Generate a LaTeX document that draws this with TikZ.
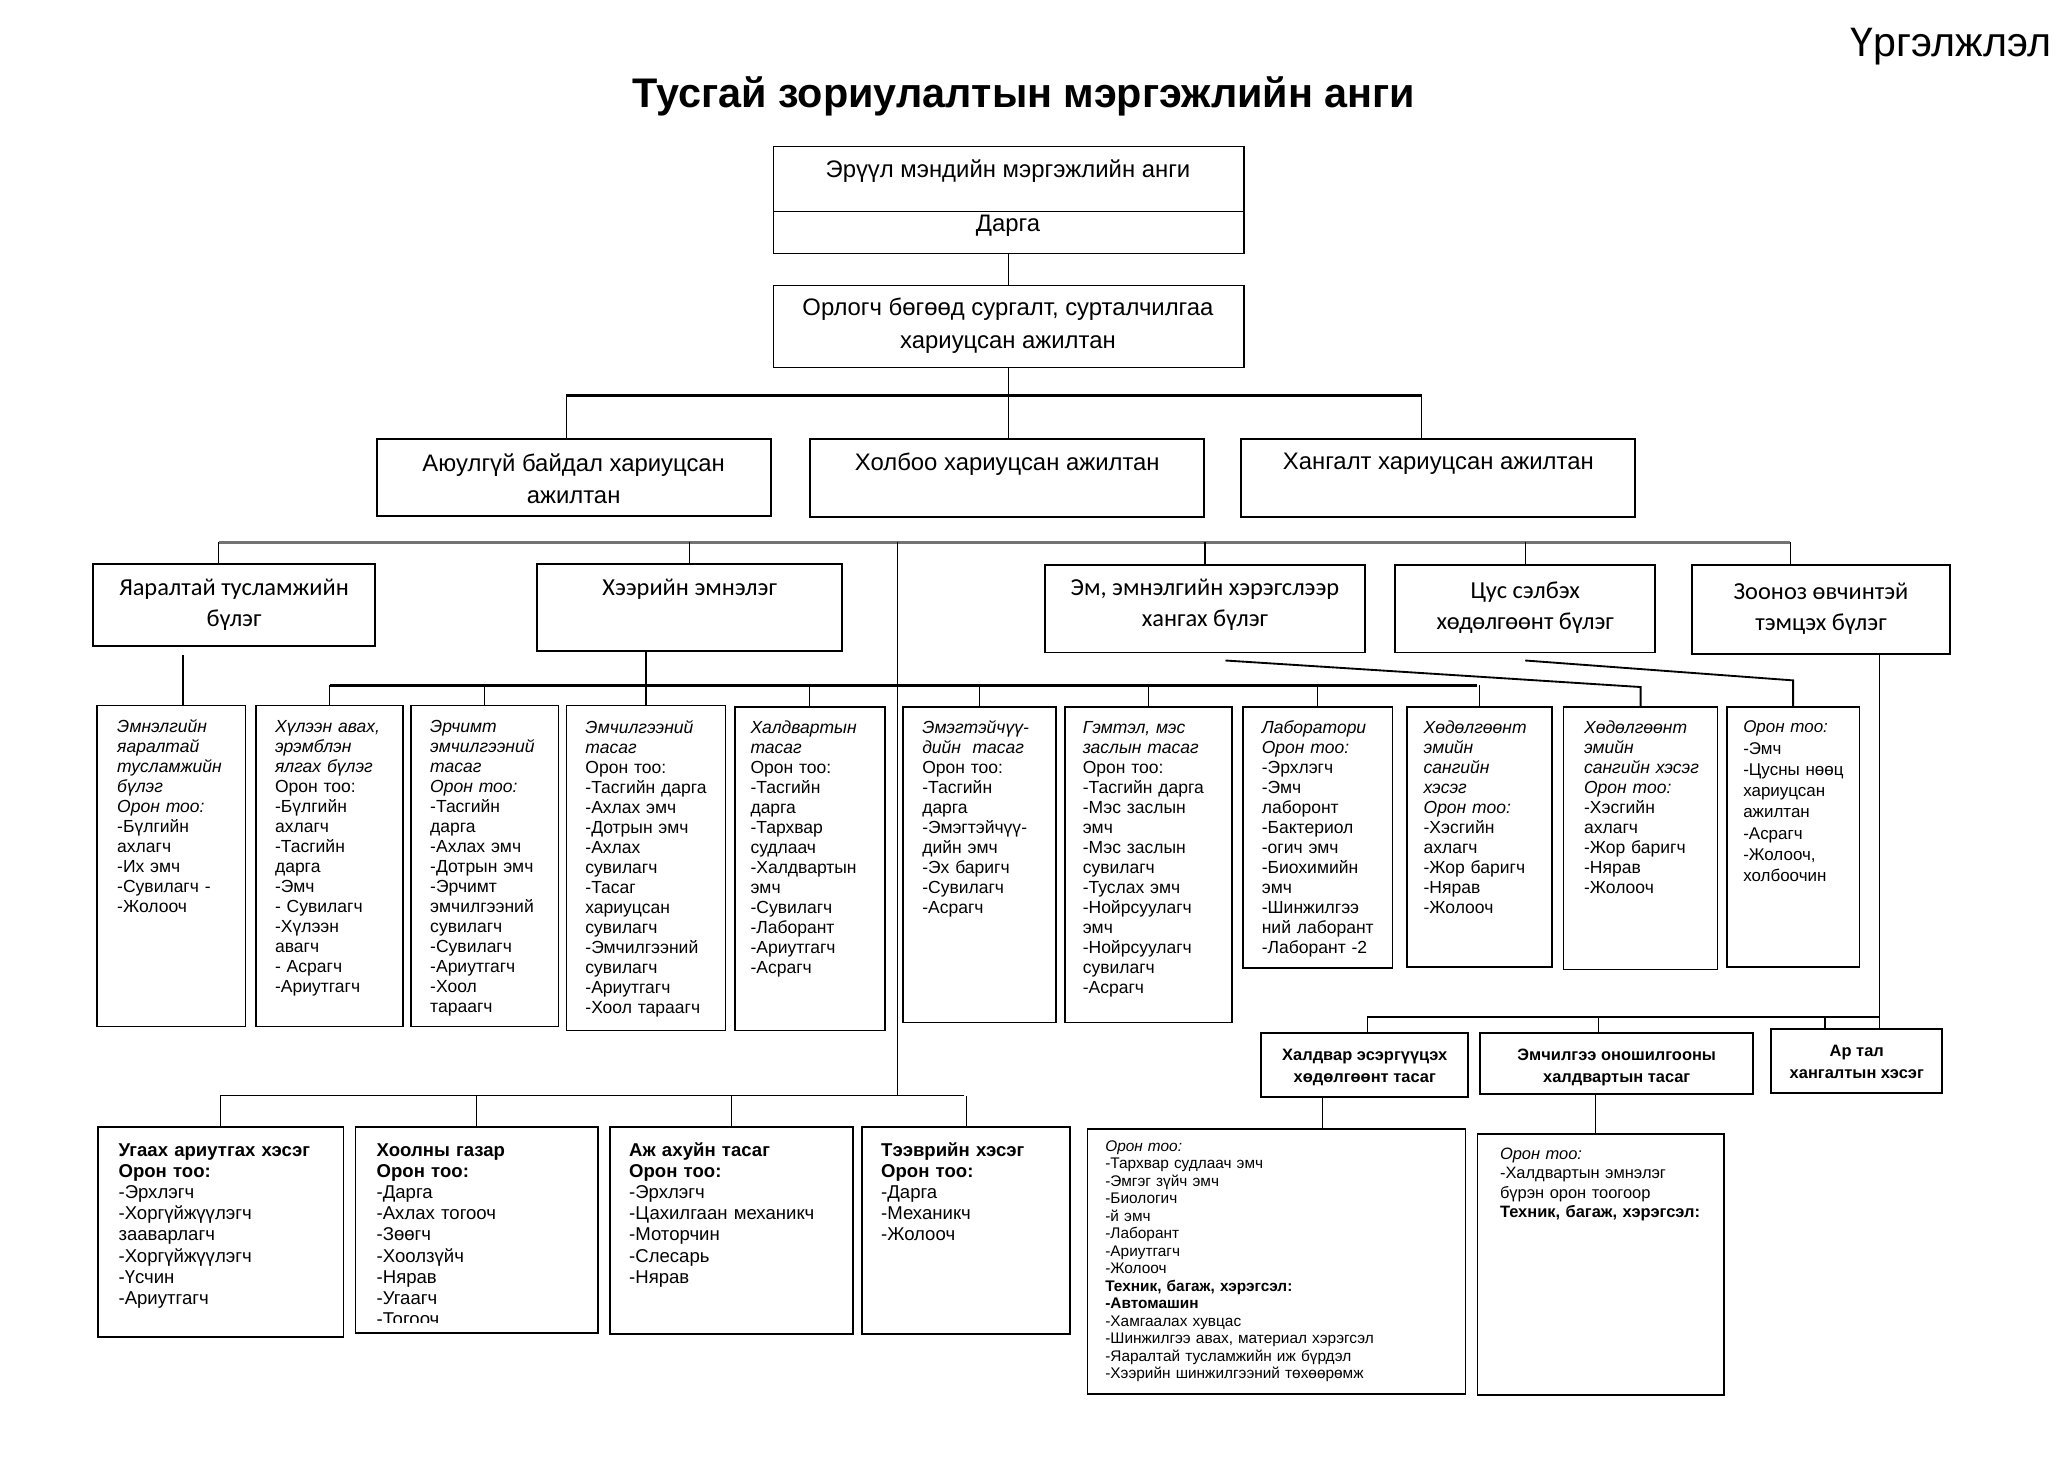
\documentclass[tikz,border=0pt]{standalone}
\usepackage{fontspec}
\setmainfont{Liberation Sans}
\newfontfamily\calfont{Carlito}

\newlength\ux
\setlength\ux{0.5pt}
% box spanning the corners (x1,y1) and (x2,y2)
\newcommand\chartbox[6][]{%
  \node[unit,#1,minimum width={(#5-#3)*\ux},minimum height={(#6-#4)*\ux}] (#2) at (#3,#4) {};}

\tikzset{
  unit/.style={draw, line width=0.7pt, anchor=north west, inner sep=0pt, outer sep=0pt},
  topbox/.style={line width=0.5pt},
  cellbox/.style={line width=0.6pt},
  link/.style={line width=0.45pt},
  bus/.style={line width=1.1pt},
  ctext/.style={inner sep=0pt, align=center, font=\fontsize{9pt}{12.5pt}\selectfont},
  gtext/.style={inner sep=0pt, align=center, font=\calfont\fontsize{9.2pt}{11.75pt}\selectfont},
  htext/.style={inner sep=0pt, align=center, font=\fontsize{6.2pt}{8.3pt}\selectfont\bfseries},
  lines/.style={anchor=north west, inner sep=0pt, align=left, text width=150\ux, execute at begin node=\strut},
  stext/.style={lines, font=\fontsize{6.6pt}{7.55pt}\selectfont},
  btext/.style={lines, font=\fontsize{7pt}{8pt}\selectfont},
  ltext/.style={lines, text width=270\ux, font=\fontsize{5.8pt}{6.6pt}\selectfont},
}

\begin{document}
\begin{tikzpicture}[x=0.5pt, y=-0.5pt]
  \fill[white] (0,0) rectangle (1560,1100);
  \useasboundingbox (0,0) rectangle (1560,1100);

  % heading
  \node[font=\fontsize{15.5pt}{18pt}\selectfont] (cont) at (1471,35) {Үргэлжлэл};
  \node[font=\fontsize{15.6pt}{18pt}\selectfont\bfseries] (title) at (772,73) {Тусгай зориулалтын мэргэжлийн анги};

  % top levels
  \chartbox[topbox]{ero}{583}{110.5}{938}{159.7}
  \chartbox[topbox]{dar}{583}{159.7}{938}{191}
  \chartbox[topbox]{orl}{583}{215}{938}{277}
  \node[ctext] (ero-t) at (760,128.8) {Эрүүл мэндийн мэргэжлийн анги};
  \node[ctext] (dar-t) at (760,170) {Дарга};
  \node[ctext] (orl-t) at (760,245.5) {Орлогч бөгөөд сургалт, сурталчилгаа\\хариуцсан ажилтан};

  \chartbox{aj}{284}{331}{581}{389}
  \chartbox{hol}{611}{331}{908}{389.5}
  \chartbox{hg}{936}{331}{1233}{390}
  \node[ctext, font=\fontsize{9pt}{12pt}\selectfont] (aj-t) at (432.5,361) {Аюулгүй байдал хариуцсан\\ажилтан};
  \node[ctext] (hol-t) at (759.5,350) {Холбоо хариуцсан ажилтан};
  \node[ctext] (hg-t) at (1084.5,350) {Хангалт хариуцсан ажилтан};

  % groups
  \chartbox{ya}{70}{425}{283}{487}
  \chartbox{he}{405}{425}{635}{491}
  \chartbox{em}{788}{426}{1029}{492}
  \chartbox{cu}{1052}{426}{1248}{492}
  \chartbox{zo}{1276}{426}{1470}{493}
  \node[gtext] (ya-t) at (176.5,455.7) {Яаралтай тусламжийн\\бүлэг};
  \node[gtext] (he-t) at (520,444) {Хээрийн эмнэлэг};
  \node[gtext] (em-t) at (908.5,456) {Эм, эмнэлгийн хэрэгслээр\\хангах бүлэг};
  \node[gtext] (cu-t) at (1150,458) {Цус сэлбэх\\хөдөлгөөнт бүлэг};
  \node[gtext] (zo-t) at (1373,459) {Зооноз өвчинтэй\\тэмцэх бүлэг};

  % units
  \chartbox[cellbox]{emn}{73}{532}{185}{774}
  \chartbox[cellbox]{hul}{193}{532}{304}{774}
  \chartbox[cellbox]{erch}{310}{532}{421}{774}
  \chartbox[cellbox]{emch}{427}{532}{547}{777}
  \chartbox{hald}{554}{533}{667}{777}
  \chartbox[cellbox]{emeg}{681}{533}{796}{771}
  \chartbox[cellbox]{gem}{803}{533}{929}{771}
  \chartbox[cellbox]{lab}{937}{533}{1050}{730}
  \chartbox[cellbox]{hod1}{1061}{533}{1170}{729}
  \chartbox[cellbox]{hod2}{1179}{533}{1295}{731}
  \chartbox[cellbox]{oron}{1302}{533}{1402}{729}

  \node[stext] (emn-t) at (88,541) {{\itshape Эмнэлгийн\\ яаралтай\\ тусламжийн\\ бүлэг\\ Орон тоо:}\\ -Бүлгийн\\ ахлагч\\ -Их эмч\\ -Сувилагч -\\ -Жолооч};
  \node[stext] (hul-t) at (207,541) {{\itshape Хүлээн авах,\\ эрэмблэн\\ ялгах бүлэг}\\ Орон тоо:\\ -Бүлгийн\\ ахлагч\\ -Тасгийн\\ дарга\\ -Эмч\\ - Сувилагч\\ -Хүлээн\\ авагч\\ - Асрагч\\ -Ариутгагч};
  \node[stext] (erch-t) at (324,541) {{\itshape Эрчимт\\ эмчилгээний\\ тасаг\\ Орон тоо:}\\ -Тасгийн\\ дарга\\ -Ахлах эмч\\ -Дотрын эмч\\ -Эрчимт\\ эмчилгээний\\ сувилагч\\ -Сувилагч\\ -Ариутгагч\\ -Хоол\\ тараагч};
  \node[stext] (emch-t) at (441,542) {{\itshape Эмчилгээний\\ тасаг}\\ Орон тоо:\\ -Тасгийн дарга\\ -Ахлах эмч\\ -Дотрын эмч\\ -Ахлах\\ сувилагч\\ -Тасаг\\ хариуцсан\\ сувилагч\\ -Эмчилгээний\\ сувилагч\\ -Ариутгагч\\ -Хоол тараагч};
  \node[stext] (hald-t) at (565.5,542) {{\itshape Халдвартын\\ тасаг}\\ Орон тоо:\\ -Тасгийн\\ дарга\\ -Тархвар\\ судлаач\\ -Халдвартын\\ эмч\\ -Сувилагч\\ -Лаборант\\ -Ариутгагч\\ -Асрагч};
  \node[stext] (emeg-t) at (695,542) {{\itshape Эмэгтэйчүү-\\ дийн~~тасаг}\\ Орон тоо:\\ -Тасгийн\\ дарга\\ -Эмэгтэйчүү-\\ дийн эмч\\ -Эх баригч\\ -Сувилагч\\ -Асрагч};
  \node[stext] (gem-t) at (816,542) {{\itshape Гэмтэл, мэс\\ заслын тасаг}\\ Орон тоо:\\ -Тасгийн дарга\\ -Мэс заслын\\ эмч\\ -Мэс заслын\\ сувилагч\\ -Туслах эмч\\ -Нойрсуулагч\\ эмч\\ -Нойрсуулагч\\ сувилагч\\ -Асрагч};
  \node[stext] (lab-t) at (951,542) {{\itshape Лаборатори\\ Орон тоо:}\\ -Эрхлэгч\\ -Эмч\\ лаборонт\\ -Бактериол\\ -огич эмч\\ -Биохимийн\\ эмч\\ -Шинжилгээ\\ ний лаборант\\ -Лаборант -2};
  \node[stext] (hod1-t) at (1073,542) {{\itshape Хөдөлгөөнт\\ эмийн\\ сангийн\\ хэсэг\\ Орон тоо:}\\ -Хэсгийн\\ ахлагч\\ -Жор баригч\\ -Нярав\\ -Жолооч};
  \node[stext] (hod2-t) at (1194,542) {{\itshape Хөдөлгөөнт\\ эмийн\\ сангийн хэсэг\\ Орон тоо:}\\ -Хэсгийн\\ ахлагч\\ -Жор баригч\\ -Нярав\\ -Жолооч};
  \node[stext, font=\fontsize{6.4pt}{8pt}\selectfont] (oron-t) at (1314,541) {{\itshape Орон тоо:}\\ -Эмч\\ -Цусны нөөц\\ хариуцсан\\ ажилтан\\ -Асрагч\\ -Жолооч,\\ холбоочин};

  % bottom right
  \chartbox{hesreg}{951}{779}{1107}{827}
  \chartbox{onosh}{1116}{779}{1322}{825}
  \chartbox{artal}{1335}{776}{1464}{824}
  \node[htext] (hesreg-t) at (1029,804.5) {Халдвар эсэргүүцэх\\хөдөлгөөнт тасаг};
  \node[htext] (onosh-t) at (1219,804.5) {Эмчилгээ оношилгооны\\халдвартын тасаг};
  \node[htext] (artal-t) at (1400,801) {Ар тал\\хангалтын хэсэг};

  \chartbox{hesreg-b}{820}{851}{1105}{1051}
  \chartbox[cellbox]{onosh-b}{1114}{855}{1300}{1052}
  \node[ltext] (hesreg-bt) at (833,858.4) {{\itshape Орон тоо:}\\ -Тархвар судлаач эмч\\ -Эмгэг зүйч эмч\\ -Биологич\\ -й эмч\\ -Лаборант\\ -Ариутгагч\\ -Жолооч\\ \textbf{Техник, багаж, хэрэгсэл:}\\ \textbf{-Автомашин}\\ -Хамгаалах хувцас\\ -Шинжилгээ авах, материал хэрэгсэл\\ -Яаралтай тусламжийн иж бүрдэл\\ -Хээрийн шинжилгээний төхөөрөмж};
  \node[ltext, font=\fontsize{6.2pt}{7.25pt}\selectfont] (onosh-bt) at (1130.6,863.8) {{\itshape Орон тоо:}\\ -Халдвартын эмнэлэг\\ бүрэн орон тоогоор\\ \textbf{Техник, багаж, хэрэгсэл:}};

  % bottom left
  \chartbox{ugaah}{74}{849.5}{259}{1008}
  \chartbox{hool}{268}{850}{451}{1005}
  \chartbox{ajahui}{460}{849.5}{643}{1006}
  \chartbox{teever}{650}{849.5}{807}{1006}
  \coordinate (hc) at (0,997);
  \node[btext] (ugaah-t) at (89,860) {\textbf{Угаах ариутгах хэсэг}\\ \textbf{Орон тоо:}\\ -Эрхлэгч\\ -Хоргүйжүүлэгч\\ зааварлагч\\ -Хоргүйжүүлэгч\\ -Үсчин\\ -Ариутгагч};
  \begin{scope}
    \clip (hool.north west) rectangle (hool.east |- hc);
    \node[btext] (hool-t) at (283.6,860) {\textbf{Хоолны газар}\\ \textbf{Орон тоо:}\\ -Дарга\\ -Ахлах тогооч\\ -Зөөгч\\ -Хоолзүйч\\ -Нярав\\ -Угаагч\\ -Тогооч};
  \end{scope}
  \node[btext] (ajahui-t) at (474,860) {\textbf{Аж ахуйн тасаг}\\ \textbf{Орон тоо:}\\ -Эрхлэгч\\ -Цахилгаан механикч\\ -Моторчин\\ -Слесарь\\ -Нярав};
  \node[btext] (teever-t) at (664,860) {\textbf{Тээврийн хэсэг}\\ \textbf{Орон тоо:}\\ -Дарга\\ -Механикч\\ -Жолооч};

  % connectors
  \coordinate (b1w) at (427,298.4);
  \coordinate (b1e) at (1072,298.4);
  \coordinate (b2w) at (165,409);
  \coordinate (b2e) at (1350,409);
  \coordinate (b3w) at (249,516.5);
  \coordinate (b3e) at (1114,516.5);
  \coordinate (b4w) at (1031,767);
  \coordinate (b5w) at (166,826);
  \coordinate (b5e) at (727,826);
  \coordinate (v1) at (677,409);
  \coordinate (c1) at (138,494);
  \coordinate (k1) at (924,498);
  \coordinate (k2) at (1150,498);
  \coordinate (z1) at (1417,0);
  \coordinate (d2) at (1205,767);
  \coordinate (d3) at (1376,767);
  \coordinate (d4) at (997,0);
  \coordinate (d5) at (1203,0);

  \draw[link] (dar.south) -- (dar.south |- orl.north);
  \draw[link] (orl.south) -- (orl.south |- hol.north);
  \draw[bus] (b1w) -- (b1e);
  \draw[link] (b1w) -- (b1w |- aj.north);
  \draw[link] (b1e) -- (b1e |- hg.north);

  \draw[bus, black!55] (b2w) -- (b2e);
  \draw[link] (b2w) -- (b2w |- ya.north);
  \draw[link] (b2e) -- (b2e |- zo.north);
  \foreach \n in {he,em,cu}
    \draw[link] (\n.north |- b2w) -- (\n.north);
  \draw[link] (v1) -- (v1 |- b5w);

  \draw[link] (c1) -- (c1 |- emn.north);
  \draw[link] (he.south -| emch.north) -- (emch.north);
  \draw[bus] (b3w) -- (b3e);
  \foreach \n in {hul,erch,emch,hald,emeg,gem,lab,hod1}
    \draw[link] (\n.north |- b3w) -- (\n.north);
  \draw[line width=0.7pt] (k1) -- ([yshift=7.5pt]hod2.north) -- (hod2.north);
  \draw[line width=0.7pt] (k2) -- ([yshift=10pt]oron.north) -- (oron.north);

  \draw[link] (zo.south -| z1) -- (z1 |- artal.north);
  \draw[line width=0.8pt] (b4w) -- (b4w -| z1);
  \draw[link] (b4w) -- (b4w |- hesreg.north);
  \draw[link] (d2) -- (d2 |- onosh.north);
  \draw[link] (d3) -- (d3 |- artal.north);
  \draw[link] (hesreg.south -| d4) -- (hesreg-b.north -| d4);
  \draw[link] (onosh.south -| d5) -- (onosh-b.north -| d5);

  \draw[line width=0.6pt] (b5w) -- (b5e);
  \foreach \n in {ugaah,hool,ajahui,teever}
    \draw[link] (\n.north |- b5w) -- (\n.north);
\end{tikzpicture}
\end{document}
